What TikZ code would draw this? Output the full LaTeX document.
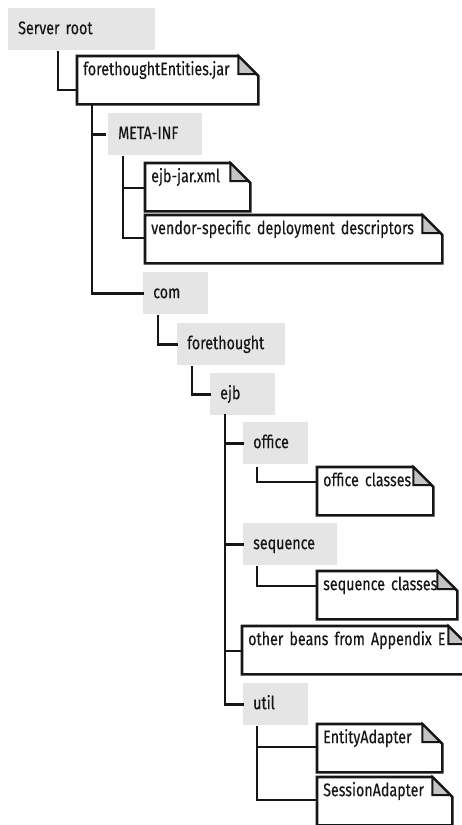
\documentclass[tikz,border=0pt]{standalone}
\usepackage{fontspec}
\setmainfont{Fira Sans}[FakeStretch=0.785, FakeBold=0.3]
\usepackage{tikz}
\usetikzlibrary{positioning,calc,backgrounds}
\definecolor{folderGray}{RGB}{229,229,229}
\definecolor{foldGray}{RGB}{196,196,196}
\definecolor{inkBlack}{RGB}{22,22,22}

\tikzset{
  folder/.style={fill=folderGray, anchor=north west, inner xsep=10pt, inner ysep=0pt,
    minimum height=42pt, text width=#1, align=left, text height=14pt, text depth=4pt},
  filebox/.style={anchor=north west, inner xsep=6pt, inner ysep=5pt,
    text width=#1, align=left, text height=14pt, text depth=24pt},
  fileline/.style={draw=inkBlack, line width=2.6pt, line join=miter},
  tree/.style={draw=inkBlack, line width=2.6pt, line cap=rect}
}

% dog-eared outline behind a file node
\newcommand{\dogear}[1]{%
  \begin{pgfonlayer}{background}
  \draw[fileline, fill=white] (#1.north west) -- ($(#1.north east)+(-20,0)$)
    -- ($(#1.north east)+(0,20)$) -- (#1.south east) -- (#1.south west) -- cycle;
  \draw[fileline, fill=foldGray, line width=2pt] ($(#1.north east)+(-20,0)$)
    -- ++(0,18) -- ++(18,0) -- cycle;
  \end{pgfonlayer}
}

\begin{document}
\begin{tikzpicture}[x=1pt, y=-1pt, font=\fontsize{18.2}{21}\selectfont, text=inkBlack]
  \useasboundingbox (0,0) rectangle (462,825);
  \clip (0,0) rectangle (462,825);

  % Folders
  \node[folder=127pt] (root) at (8,8) {Server root};
  \node[folder=74pt] (meta) at (108,113) {META-INF};
  \node[folder=45pt] (com) at (143,272) {com};
  \node[folder=88pt] (fthought) at (177,323) {forethought};
  \node[folder=45pt] (ejb) at (210,373) {ejb};
  \node[folder=45pt] (office) at (243,422) {office};
  \node[folder=74pt] (sequence) at (243,523) {sequence};
  \node[folder=45pt] (util) at (243,683) {util};

  % Files
  \node[filebox=169pt] (jar) at (77,56) {forethoughtEntities.jar};
  \node[filebox=93pt] (ejbxml) at (145,163) {ejb-jar.xml};
  \node[filebox=285pt] (vendor) at (145,215) {vendor-specific deployment descriptors};
  \node[filebox=104pt] (officecls) at (317,467) {office classes};
  \node[filebox=128pt] (seqcls) at (317,571) {sequence classes};
  \node[filebox=214pt] (otherbeans) at (242,626) {other beans from Appendix E};
  \node[filebox=113pt] (entity) at (317,724) {EntityAdapter};
  \node[filebox=123pt] (session) at (317,777) {SessionAdapter};

  \foreach \f in {jar,ejbxml,vendor,officecls,seqcls,otherbeans,entity,session}
    {\dogear{\f}}

  % Tree connectors
  \draw[tree] ($(root.south west)+(50,2)$) |- ($(jar.north west)+(0,34)$);
  \draw[tree] ($(jar.south west)+(15,2)$) |- ($(meta.west)+(-3,0)$);
  \draw[tree] ($(jar.south west)+(15,2)$) |- (com.west);
  \draw[tree] ($(meta.south west)+(15,2)$) |- ($(ejbxml.north west)+(0,25)$);
  \draw[tree] ($(meta.south west)+(15,2)$) |- ($(vendor.north west)+(0,23)$);
  \draw[tree] ($(com.south west)+(15,2)$) |- (fthought.west);
  \draw[tree] ($(fthought.south west)+(15,2)$) |- (ejb.west);
  \draw[tree] ($(ejb.south west)+(15,0)$) |- (office.west);
  \draw[tree] ($(ejb.south west)+(15,0)$) |- (sequence.west);
  \draw[tree] ($(ejb.south west)+(15,0)$) |- ($(otherbeans.north west)+(0,25)$);
  \draw[tree] ($(ejb.south west)+(15,0)$) |- (util.west);
  \draw[tree] ($(office.south west)+(14,4)$) |- ($(officecls.north west)+(0,15)$);
  \draw[tree] ($(sequence.south west)+(14,2)$) |- ($(seqcls.north west)+(0,15)$);
  \draw[tree] ($(util.south west)+(14,2)$) |- ($(entity.north west)+(0,23)$);
  \draw[tree] ($(util.south west)+(14,2)$) |- ($(session.north west)+(0,23)$);
\end{tikzpicture}
\end{document}
